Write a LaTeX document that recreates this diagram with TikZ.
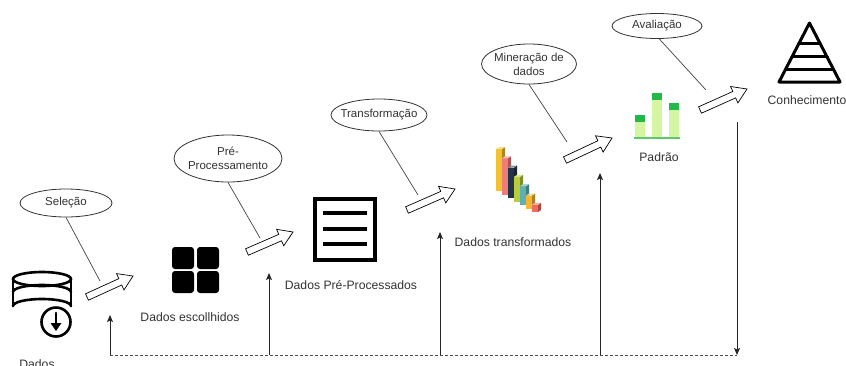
\documentclass[tikz,border=0pt]{standalone}
\usepackage{fontspec}
\setmainfont{Liberation Sans}
\usetikzlibrary{calc,arrows.meta,shapes.geometric}

\definecolor{ink}{HTML}{333333}
\definecolor{wire}{HTML}{444444}
\definecolor{barA}{HTML}{F2C230}
\definecolor{barB}{HTML}{F07C78}
\definecolor{barC}{HTML}{243447}
\definecolor{barD}{HTML}{B8CC3C}
\definecolor{barE}{HTML}{5FB0B0}
\definecolor{barF}{HTML}{F5B731}
\definecolor{barG}{HTML}{EE6B5E}
\definecolor{leaf}{HTML}{D4F5A2}
\definecolor{leafcap}{HTML}{22B84A}
\definecolor{leafbase}{HTML}{5CC96A}

\tikzset{
  tag/.style={ellipse, draw=ink, line width=0.8pt, inner sep=0pt},
  tagtext/.style={text=ink, font=\fontsize{11.5}{14}\selectfont, align=center, inner sep=0pt},
  caption/.style={text=ink, font=\fontsize{12.2}{14}\selectfont, inner sep=0pt},
  pointer/.style={draw=wire, line width=0.7pt},
  blockarr/.style={draw=black, fill=white, line width=0.7pt, line join=miter},
  feedback/.style={draw=black!85, line width=0.9pt, -{Stealth[length=7pt,width=6pt,inset=1.5pt]}},
  feedline/.style={draw=black!70, line width=0.9pt, dash pattern=on 3pt off 2pt},
  iconline/.style={line width=3pt, line cap=round, line join=round},
}

% hollow block arrow from #1 to #2
\newcommand\blockarrow[2]{%
  \coordinate (#1-h) at ($(#2)!14pt!(#1)$);
  \draw[blockarr]
    ($(#1)!3.5pt!90:(#2)$) -- ($(#1-h)!3.5pt!90:(#2)$) -- ($(#1-h)!9pt!90:(#2)$)
    -- (#2)
    -- ($(#1-h)!9pt!-90:(#2)$) -- ($(#1-h)!3.5pt!-90:(#2)$) -- ($(#1)!3.5pt!-90:(#2)$) -- cycle;
}

\begin{document}
\begin{tikzpicture}[x=1pt,y=-1pt]
\useasboundingbox (0,0) rectangle (846,365);
\clip (0,0) rectangle (846,365);
\fill[white] (0,0) rectangle (846,365);

% ---------- stage icons ----------
% database with download badge
\begin{scope}[line width=2.6pt, line cap=round]
  \draw (42,279) ellipse [x radius=29, y radius=7];
  \draw (13,279) -- (13,306);
  \draw (71,279) -- (71,306);
  \draw (13,292) arc[start angle=180, end angle=360, x radius=29, y radius=7];
  \draw (13,306) arc[start angle=180, end angle=360, x radius=29, y radius=7];
  \fill[white] (56,322) circle[radius=18.5];
  \draw (56,322) circle[radius=14.5];
  \draw (56,313) -- (56,325);
  \fill (50.5,323) -- (61.5,323) -- (56,331) -- cycle;
\end{scope}

% four tiles
\foreach \tx/\ty in {172/247, 197/247, 172/271, 197/271}
  \fill[rounded corners=3pt] (\tx,\ty) rectangle ++(22,22);

% document
\draw[line width=4pt] (315,199) rectangle (375,260);
\foreach \ly in {213,229,244}
  \draw[line width=4pt] (323,\ly) -- (367,\ly);

% 3D bar chart
\foreach \c [count=\i from 0] in {barA,barB,barC,barD,barE,barF,barG} {
  \pgfmathsetmacro\bx{496+6*\i}
  \pgfmathsetmacro\bt{149+9.3*\i}
  \pgfmathsetmacro\bb{191+3.5*\i}
  \fill[\c] (\bx,\bt) rectangle (\bx+6,\bb);
  \fill[\c!70!black] (\bx+6,\bt) -- (\bx+9,\bt-2) -- (\bx+9,\bb-2) -- (\bx+6,\bb) -- cycle;
  \fill[\c!55!white] (\bx,\bt) -- (\bx+3,\bt-2) -- (\bx+9,\bt-2) -- (\bx+6,\bt) -- cycle;
}

% pattern chart
\foreach \px/\pt in {635/115, 652/93, 669/103} {
  \fill[leaf] (\px,\pt) rectangle (\px+10,137);
  \fill[leafcap] (\px,\pt) rectangle (\px+10,\pt+7);
}
\draw[leafbase, line width=2pt] (634,138) -- (680,138);

% knowledge pyramid
\draw[iconline] (809.5,23) -- (779,82) -- (840,82) -- cycle;
\draw[iconline] (799,43) -- (820,43);
\draw[iconline] (792,56) -- (827,56);
\draw[iconline] (785.5,69) -- (833.5,69);

% ---------- stage captions ----------
\node[caption] (c-dados) at (37,364) {Dados};
\node[caption] (c-esc) at (190,317) {Dados escollhidos};
\node[caption] (c-pre) at (351,285) {Dados Pré-Processados};
\node[caption] (c-trans) at (513,242) {Dados transformados};
\node[caption] (c-pad) at (659,157) {Padrão};
\node[caption] (c-con) at (807,100) {Conhecimento};

% ---------- step arrows ----------
\coordinate (a1) at (87,297);  \coordinate (b1) at (133,276);
\coordinate (a2) at (247,252); \coordinate (b2) at (293,232);
\coordinate (a3) at (407,210); \coordinate (b3) at (455,189);
\coordinate (a4) at (565,160); \coordinate (b4) at (612,138);
\coordinate (a5) at (700,110); \coordinate (b5) at (747,89);
\blockarrow{a1}{b1}
\blockarrow{a2}{b2}
\blockarrow{a3}{b3}
\blockarrow{a4}{b4}
\blockarrow{a5}{b5}

% ---------- step callouts ----------
\node[tag, minimum width=92pt, minimum height=28pt] (e-sel) at (66,203) {};
\node[tagtext] (t-sel) at (e-sel) {Seleção};
\node[tag, minimum width=108pt, minimum height=47pt] (e-pre) at (228,158.5) {};
\node[tagtext] (t-pre) at (e-pre) {Pré-\\Processamento};
\node[tag, minimum width=96pt, minimum height=32pt] (e-tra) at (379,115) {};
\node[tagtext] (t-tra) at (e-tra) {Transformação};
\node[tag, minimum width=95pt, minimum height=40pt] (e-min) at (529,64) {};
\node[tagtext] (t-min) at (e-min) {Mineração de\\dados};
\node[tag, minimum width=90pt, minimum height=25pt] (e-ava) at (657,26) {};
\node[tagtext] (t-ava) at (e-ava) {Avaliação};

\coordinate (p1) at (100,281);
\coordinate (p2) at (260,238);
\coordinate (p3) at (418,195);
\coordinate (p4) at (567,142);
\coordinate (p5) at (706,90);
\draw[pointer] (e-sel.south) -- (p1);
\draw[pointer] (e-pre.south) -- (p2);
\draw[pointer] (e-tra.south) -- (p3);
\draw[pointer] (e-min.south) -- (p4);
\draw[pointer] (e-ava.-80) -- (p5);

% ---------- feedback loop ----------
\coordinate (f0) at (110,355);
\coordinate (f1) at (269,355);
\coordinate (f2) at (440,355);
\coordinate (f3) at (600,355);
\coordinate (f4) at (737,355);
\coordinate (u0) at (110,315);
\coordinate (u1) at (269,273);
\coordinate (u2) at (440,232);
\coordinate (u3) at (600,173);
\coordinate (d4) at (737,122);
\draw[feedline] (f0) -- (f4);
\draw[feedback] (f0) -- (u0);
\draw[feedback] (f1) -- (u1);
\draw[feedback] (f2) -- (u2);
\draw[feedback] (f3) -- (u3);
\draw[feedback] (d4) -- (f4);
\end{tikzpicture}
\end{document}
